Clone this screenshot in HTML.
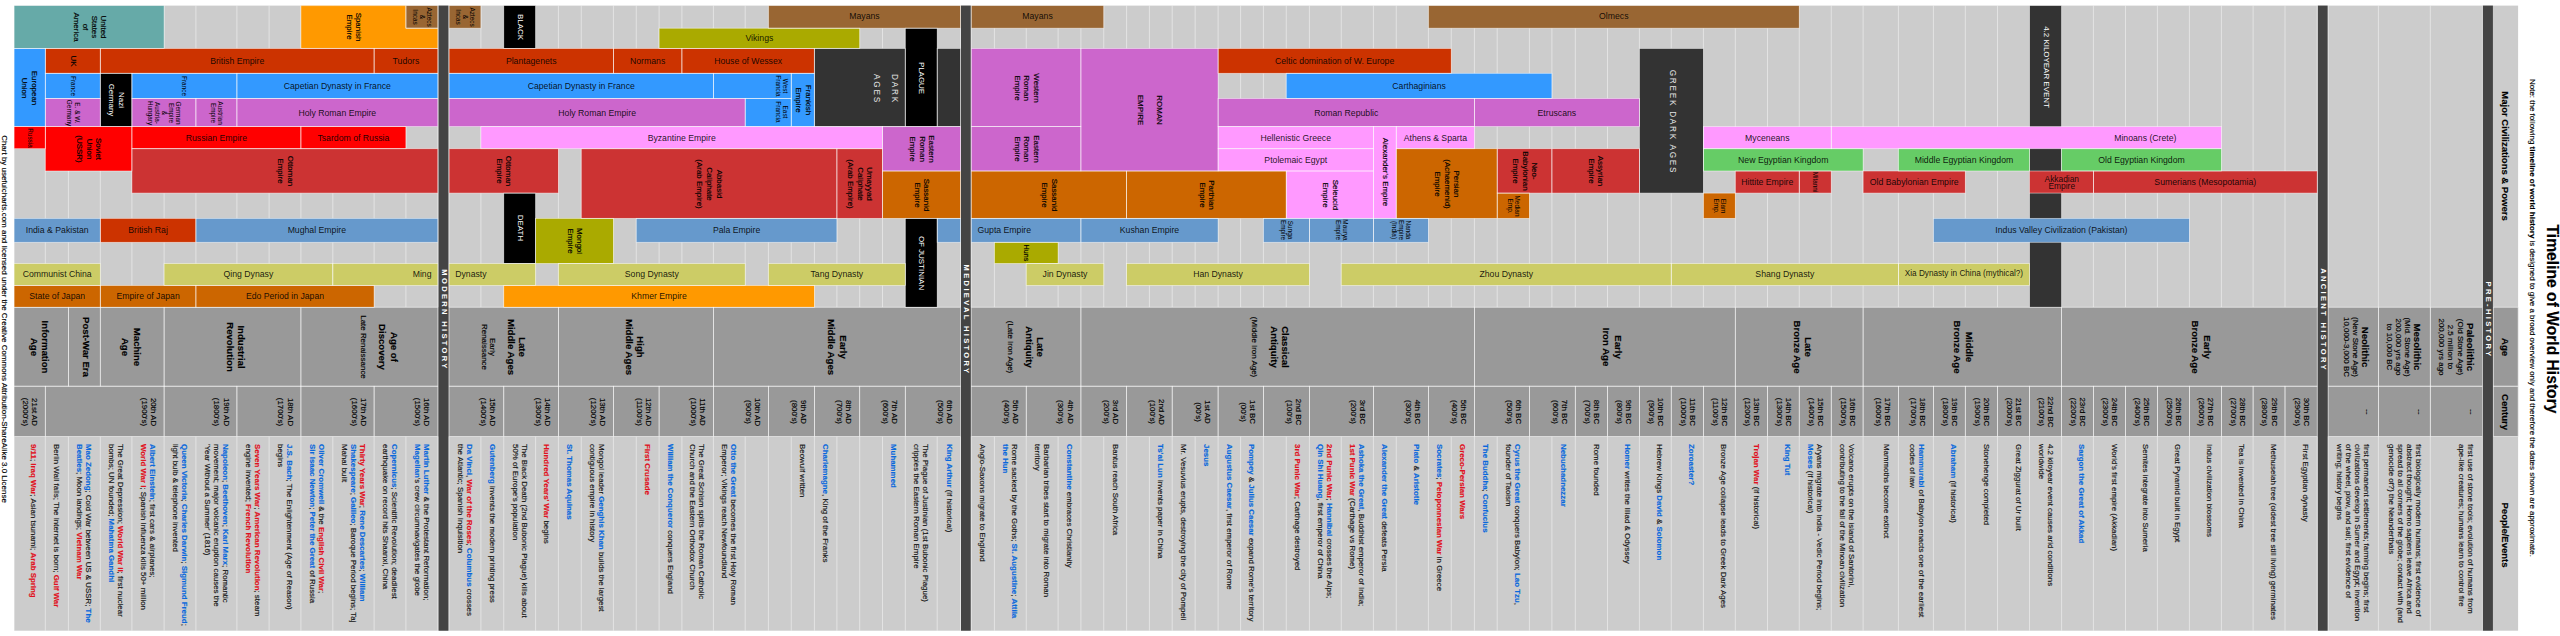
<!DOCTYPE html>
<html lang="en"><head><meta charset="utf-8">
<title>Timeline of World History</title>
<style>
html,body{margin:0;padding:0;background:#fff}
body{width:2560px;height:636px;position:relative;overflow:hidden;
font-family:"Liberation Sans",sans-serif;color:#000}
svg{position:absolute;left:0;top:0}
.h,.hl,.hr,.v,.vt,.e{position:absolute;white-space:nowrap;line-height:1}
.h{transform:translate(-50%,-50%)}
.hl{transform:translate(0,-50%)}
.hr{transform:translate(-100%,-50%)}
.v{transform:translate(-50%,-50%) rotate(90deg)}
.vt{transform-origin:0 50%;transform:translate(0,-50%) rotate(90deg)}
.v,.vt,.e{-webkit-text-stroke:0.15px currentColor}
.h,.hl,.hr{color:rgba(0,0,0,.88)}
.ns{-webkit-text-stroke:0}
.b,b{font-weight:bold}
.e{transform-origin:0 0;transform:rotate(90deg);font-size:7.9px;line-height:9.1px;color:#111}
.e b{color:#0968dc}
.e i{color:#e01020;font-style:normal;font-weight:bold}
.w{color:#fff}
</style></head><body>
<svg width="2560" height="636" viewBox="0 0 2560 636">
<g>
<rect x="14.1" y="5.6" width="2504" height="625.1" fill="#cccccc"/>
<rect x="14.1" y="307.3" width="2468.3" height="129.1" fill="#999999"/>
<rect x="2493.4" y="307.3" width="24.7" height="129.1" fill="#999999"/>
</g><g fill="none" stroke="#ffffff" stroke-width="0.75" stroke-opacity="0.62">
<path d="M14.1 5.6V307.3"/>
<path d="M14.1 436.4V630.7"/>
<path d="M45.3 5.6V307.3"/>
<path d="M45.3 436.4V630.7"/>
<path d="M68.4 5.6V307.3"/>
<path d="M68.4 436.4V630.7"/>
<path d="M100.3 5.6V307.3"/>
<path d="M100.3 436.4V630.7"/>
<path d="M131.9 5.6V307.3"/>
<path d="M131.9 436.4V630.7"/>
<path d="M164.1 5.6V307.3"/>
<path d="M164.1 436.4V630.7"/>
<path d="M195.9 5.6V307.3"/>
<path d="M195.9 436.4V630.7"/>
<path d="M236.9 5.6V307.3"/>
<path d="M236.9 436.4V630.7"/>
<path d="M269.1 5.6V307.3"/>
<path d="M269.1 436.4V630.7"/>
<path d="M300.9 5.6V307.3"/>
<path d="M300.9 436.4V630.7"/>
<path d="M332.8 5.6V307.3"/>
<path d="M332.8 436.4V630.7"/>
<path d="M374.1 5.6V307.3"/>
<path d="M374.1 436.4V630.7"/>
<path d="M405.9 5.6V307.3"/>
<path d="M405.9 436.4V630.7"/>
<path d="M437.8 5.6V307.3"/>
<path d="M437.8 436.4V630.7"/>
<path d="M14.1 307.3H437.8"/>
<path d="M14.1 386.2H437.8"/>
<path d="M14.1 436.4H437.8"/>
<path d="M449.1 5.6V307.3"/>
<path d="M449.1 436.4V630.7"/>
<path d="M480.9 5.6V307.3"/>
<path d="M480.9 436.4V630.7"/>
<path d="M503.75 5.6V307.3"/>
<path d="M503.75 436.4V630.7"/>
<path d="M535.6 5.6V307.3"/>
<path d="M535.6 436.4V630.7"/>
<path d="M558.4 5.6V307.3"/>
<path d="M558.4 436.4V630.7"/>
<path d="M581.25 5.6V307.3"/>
<path d="M581.25 436.4V630.7"/>
<path d="M613.4 5.6V307.3"/>
<path d="M613.4 436.4V630.7"/>
<path d="M636.25 5.6V307.3"/>
<path d="M636.25 436.4V630.7"/>
<path d="M659.1 5.6V307.3"/>
<path d="M659.1 436.4V630.7"/>
<path d="M681.9 5.6V307.3"/>
<path d="M681.9 436.4V630.7"/>
<path d="M713.4 5.6V307.3"/>
<path d="M713.4 436.4V630.7"/>
<path d="M745.2 5.6V307.3"/>
<path d="M745.2 436.4V630.7"/>
<path d="M768.4 5.6V307.3"/>
<path d="M768.4 436.4V630.7"/>
<path d="M791.25 5.6V307.3"/>
<path d="M791.25 436.4V630.7"/>
<path d="M814.4 5.6V307.3"/>
<path d="M814.4 436.4V630.7"/>
<path d="M836.9 5.6V307.3"/>
<path d="M836.9 436.4V630.7"/>
<path d="M859.7 5.6V307.3"/>
<path d="M859.7 436.4V630.7"/>
<path d="M882.5 5.6V307.3"/>
<path d="M882.5 436.4V630.7"/>
<path d="M905.3 5.6V307.3"/>
<path d="M905.3 436.4V630.7"/>
<path d="M937.2 5.6V307.3"/>
<path d="M937.2 436.4V630.7"/>
<path d="M960.5 5.6V307.3"/>
<path d="M960.5 436.4V630.7"/>
<path d="M449.1 307.3H960.5"/>
<path d="M449.1 386.2H960.5"/>
<path d="M449.1 436.4H960.5"/>
<path d="M971.3 5.6V307.3"/>
<path d="M971.3 436.4V630.7"/>
<path d="M994.4 5.6V307.3"/>
<path d="M994.4 436.4V630.7"/>
<path d="M1026.25 5.6V307.3"/>
<path d="M1026.25 436.4V630.7"/>
<path d="M1058.1 5.6V307.3"/>
<path d="M1058.1 436.4V630.7"/>
<path d="M1080.9 5.6V307.3"/>
<path d="M1080.9 436.4V630.7"/>
<path d="M1103.75 5.6V307.3"/>
<path d="M1103.75 436.4V630.7"/>
<path d="M1126.6 5.6V307.3"/>
<path d="M1126.6 436.4V630.7"/>
<path d="M1149.4 5.6V307.3"/>
<path d="M1149.4 436.4V630.7"/>
<path d="M1172.2 5.6V307.3"/>
<path d="M1172.2 436.4V630.7"/>
<path d="M1195.15 5.6V307.3"/>
<path d="M1195.15 436.4V630.7"/>
<path d="M1218.1 5.6V307.3"/>
<path d="M1218.1 436.4V630.7"/>
<path d="M1240.6 5.6V307.3"/>
<path d="M1240.6 436.4V630.7"/>
<path d="M1263.4 5.6V307.3"/>
<path d="M1263.4 436.4V630.7"/>
<path d="M1286.25 5.6V307.3"/>
<path d="M1286.25 436.4V630.7"/>
<path d="M1309.4 5.6V307.3"/>
<path d="M1309.4 436.4V630.7"/>
<path d="M1341.25 5.6V307.3"/>
<path d="M1341.25 436.4V630.7"/>
<path d="M1373.4 5.6V307.3"/>
<path d="M1373.4 436.4V630.7"/>
<path d="M1396.25 5.6V307.3"/>
<path d="M1396.25 436.4V630.7"/>
<path d="M1428.4 5.6V307.3"/>
<path d="M1428.4 436.4V630.7"/>
<path d="M1451.25 5.6V307.3"/>
<path d="M1451.25 436.4V630.7"/>
<path d="M1474.4 5.6V307.3"/>
<path d="M1474.4 436.4V630.7"/>
<path d="M1497.2 5.6V307.3"/>
<path d="M1497.2 436.4V630.7"/>
<path d="M1529.4 5.6V307.3"/>
<path d="M1529.4 436.4V630.7"/>
<path d="M1551.9 5.6V307.3"/>
<path d="M1551.9 436.4V630.7"/>
<path d="M1575.3 5.6V307.3"/>
<path d="M1575.3 436.4V630.7"/>
<path d="M1607.5 5.6V307.3"/>
<path d="M1607.5 436.4V630.7"/>
<path d="M1639.4 5.6V307.3"/>
<path d="M1639.4 436.4V630.7"/>
<path d="M1671.25 5.6V307.3"/>
<path d="M1671.25 436.4V630.7"/>
<path d="M1703.4 5.6V307.3"/>
<path d="M1703.4 436.4V630.7"/>
<path d="M1735.3 5.6V307.3"/>
<path d="M1735.3 436.4V630.7"/>
<path d="M1767.5 5.6V307.3"/>
<path d="M1767.5 436.4V630.7"/>
<path d="M1799.25 5.6V307.3"/>
<path d="M1799.25 436.4V630.7"/>
<path d="M1831.25 5.6V307.3"/>
<path d="M1831.25 436.4V630.7"/>
<path d="M1863.1 5.6V307.3"/>
<path d="M1863.1 436.4V630.7"/>
<path d="M1898.4 5.6V307.3"/>
<path d="M1898.4 436.4V630.7"/>
<path d="M1933.4 5.6V307.3"/>
<path d="M1933.4 436.4V630.7"/>
<path d="M1965.3 5.6V307.3"/>
<path d="M1965.3 436.4V630.7"/>
<path d="M1997.5 5.6V307.3"/>
<path d="M1997.5 436.4V630.7"/>
<path d="M2029.5 5.6V307.3"/>
<path d="M2029.5 436.4V630.7"/>
<path d="M2061.6 5.6V307.3"/>
<path d="M2061.6 436.4V630.7"/>
<path d="M2093.4 5.6V307.3"/>
<path d="M2093.4 436.4V630.7"/>
<path d="M2125.5 5.6V307.3"/>
<path d="M2125.5 436.4V630.7"/>
<path d="M2157.4 5.6V307.3"/>
<path d="M2157.4 436.4V630.7"/>
<path d="M2189.4 5.6V307.3"/>
<path d="M2189.4 436.4V630.7"/>
<path d="M2221.4 5.6V307.3"/>
<path d="M2221.4 436.4V630.7"/>
<path d="M2253.1 5.6V307.3"/>
<path d="M2253.1 436.4V630.7"/>
<path d="M2285 5.6V307.3"/>
<path d="M2285 436.4V630.7"/>
<path d="M2317.2 5.6V307.3"/>
<path d="M2317.2 436.4V630.7"/>
<path d="M971.3 307.3H2317.2"/>
<path d="M971.3 386.2H2317.2"/>
<path d="M971.3 436.4H2317.2"/>
<path d="M2328.25 5.6V307.3"/>
<path d="M2328.25 436.4V630.7"/>
<path d="M2378.4 5.6V307.3"/>
<path d="M2378.4 436.4V630.7"/>
<path d="M2430.3 5.6V307.3"/>
<path d="M2430.3 436.4V630.7"/>
<path d="M2482.4 5.6V307.3"/>
<path d="M2482.4 436.4V630.7"/>
<path d="M2328.25 307.3H2482.4"/>
<path d="M2328.25 386.2H2482.4"/>
<path d="M2328.25 436.4H2482.4"/>
<path d="M2493.4 307.3H2518.1"/>
<path d="M2493.4 386.2H2518.1"/>
<path d="M2493.4 436.4H2518.1"/>
</g><g>
<rect x="2029.5" y="5.6" width="32.1" height="301.7" fill="#333333" stroke="#fff" stroke-width="0.75" stroke-opacity="0.62"/>
</g><g>
<rect x="14.1" y="5.6" width="150" height="42.85" fill="#66aaa8"/>
<polygon points="300.9,5.6 405.9,5.6 405.9,28.2 437.8,28.2 437.8,48.45 300.9,48.45" fill="#ff9900"/>
<rect x="405.9" y="5.6" width="31.9" height="22.6" fill="#996633"/>
<rect x="449.1" y="5.6" width="31.8" height="22.6" fill="#996633"/>
<rect x="503.75" y="5.6" width="31.85" height="42.85" fill="#000000"/>
<rect x="768.4" y="5.6" width="192.1" height="22.6" fill="#996633"/>
<rect x="971.3" y="5.6" width="132.45" height="22.6" fill="#996633"/>
<rect x="1428.4" y="5.6" width="370.85" height="22.6" fill="#996633"/>
<rect x="659.1" y="28.2" width="200.6" height="20.25" fill="#aaaa00"/>
<rect x="905.3" y="28.2" width="31.9" height="98.4" fill="#000000"/>
<rect x="45.3" y="48.45" width="55" height="24.85" fill="#cc3300"/>
<rect x="100.3" y="48.45" width="273.8" height="24.85" fill="#cc3300"/>
<rect x="374.1" y="48.45" width="63.7" height="24.85" fill="#cc3300"/>
<rect x="449.1" y="48.45" width="164.3" height="24.85" fill="#cc3300"/>
<rect x="613.4" y="48.45" width="68.5" height="24.85" fill="#cc3300"/>
<rect x="681.9" y="48.45" width="132.5" height="24.85" fill="#cc3300"/>
<polygon points="814.4,48.45 905.3,48.45 905.3,126.6 814.4,126.6" fill="#333333"/>
<rect x="937.2" y="48.45" width="23.3" height="78.15" fill="#333333"/>
<rect x="971.3" y="48.45" width="109.6" height="78.15" fill="#cc66cc"/>
<rect x="1080.9" y="48.45" width="137.2" height="122.55" fill="#cc66cc"/>
<rect x="1218.1" y="48.45" width="233.15" height="24.85" fill="#cc3300"/>
<rect x="1639.4" y="48.45" width="64" height="144.65" fill="#333333"/>
<rect x="14.1" y="48.45" width="31.2" height="78.15" fill="#3399ff"/>
<rect x="45.3" y="73.3" width="55" height="25.15" fill="#3399ff"/>
<rect x="100.3" y="73.3" width="31.6" height="53.3" fill="#000000"/>
<rect x="131.9" y="73.3" width="105" height="25.15" fill="#3399ff"/>
<rect x="236.9" y="73.3" width="200.9" height="25.15" fill="#3399ff"/>
<rect x="449.1" y="73.3" width="264.3" height="25.15" fill="#3399ff"/>
<rect x="713.4" y="73.3" width="77.85" height="25.15" fill="#3399ff"/>
<rect x="791.25" y="73.3" width="23.15" height="53.3" fill="#3399ff"/>
<rect x="1286.25" y="73.3" width="265.65" height="25.15" fill="#3399ff"/>
<rect x="45.3" y="98.45" width="55" height="28.15" fill="#cc66cc"/>
<rect x="131.9" y="98.45" width="64" height="28.15" fill="#cc66cc"/>
<rect x="195.9" y="98.45" width="41" height="28.15" fill="#cc66cc"/>
<rect x="236.9" y="98.45" width="200.9" height="28.15" fill="#cc66cc"/>
<rect x="449.1" y="98.45" width="296.1" height="28.15" fill="#cc66cc"/>
<rect x="745.2" y="98.45" width="46.05" height="28.15" fill="#3399ff"/>
<rect x="1218.1" y="98.45" width="256.3" height="28.15" fill="#cc66cc"/>
<rect x="1474.4" y="98.45" width="165" height="28.15" fill="#cc66cc"/>
<rect x="14.1" y="126.6" width="31.2" height="22.1" fill="#ff0000"/>
<rect x="45.3" y="126.6" width="86.6" height="44.4" fill="#ff0000"/>
<rect x="131.9" y="126.6" width="169" height="22.1" fill="#ff0000"/>
<rect x="300.9" y="126.6" width="105" height="22.1" fill="#ff0000"/>
<rect x="480.9" y="126.6" width="401.6" height="22.1" fill="#ff99ff"/>
<rect x="882.5" y="126.6" width="78" height="44.4" fill="#cc66cc"/>
<rect x="971.3" y="126.6" width="109.6" height="44.4" fill="#cc66cc"/>
<rect x="1218.1" y="126.6" width="155.3" height="22.1" fill="#ff99ff"/>
<rect x="1373.4" y="126.6" width="22.85" height="91.75" fill="#ff99ff"/>
<rect x="1396.25" y="126.6" width="78.15" height="22.1" fill="#ff99ff"/>
<rect x="1703.4" y="126.6" width="127.85" height="22.1" fill="#ff99ff"/>
<rect x="1831.25" y="126.6" width="390.15" height="22.1" fill="#ff99ff"/>
<rect x="131.9" y="148.7" width="305.9" height="44.4" fill="#cc3333"/>
<rect x="449.1" y="148.7" width="109.3" height="44.4" fill="#cc3333"/>
<rect x="581.25" y="148.7" width="255.65" height="69.65" fill="#cc3333"/>
<rect x="836.9" y="148.7" width="45.6" height="69.65" fill="#cc3333"/>
<rect x="1218.1" y="148.7" width="155.3" height="22.3" fill="#ff99ff"/>
<rect x="1396.25" y="148.7" width="100.95" height="69.65" fill="#cc6600"/>
<rect x="1497.2" y="148.7" width="54.7" height="44.4" fill="#cc3333"/>
<rect x="1551.9" y="148.7" width="87.5" height="44.4" fill="#cc3333"/>
<rect x="1703.4" y="148.7" width="159.7" height="22.3" fill="#66cc66"/>
<rect x="1898.4" y="148.7" width="131.1" height="22.3" fill="#66cc66"/>
<rect x="2061.6" y="148.7" width="159.8" height="22.3" fill="#66cc66"/>
<rect x="882.5" y="171" width="78" height="47.35" fill="#cc6600"/>
<rect x="971.3" y="171" width="155.3" height="47.35" fill="#cc6600"/>
<rect x="1126.6" y="171" width="159.65" height="47.35" fill="#cc6600"/>
<rect x="1286.25" y="171" width="87.15" height="47.35" fill="#ff99ff"/>
<rect x="1735.3" y="171" width="63.95" height="22.1" fill="#cc3333"/>
<rect x="1799.25" y="171" width="32" height="22.1" fill="#cc3333"/>
<rect x="1863.1" y="171" width="102.2" height="22.1" fill="#cc3333"/>
<rect x="2029.5" y="171" width="63.9" height="22.1" fill="#cc3333"/>
<rect x="2093.4" y="171" width="223.8" height="22.1" fill="#cc3333"/>
<rect x="503.75" y="193.1" width="31.85" height="70.4" fill="#000000"/>
<rect x="1497.2" y="193.1" width="32.2" height="25.25" fill="#cc6600"/>
<rect x="1703.4" y="193.1" width="31.9" height="25.25" fill="#cc6600"/>
<rect x="14.1" y="218.35" width="86.2" height="23.95" fill="#6699cc"/>
<rect x="100.3" y="218.35" width="95.6" height="23.95" fill="#cc3300"/>
<rect x="195.9" y="218.35" width="241.9" height="23.95" fill="#6699cc"/>
<rect x="535.6" y="218.35" width="77.8" height="45.15" fill="#aaaa00"/>
<rect x="636.25" y="218.35" width="200.65" height="23.95" fill="#6699cc"/>
<rect x="905.3" y="218.35" width="31.9" height="88.95" fill="#000000"/>
<rect x="937.2" y="218.35" width="23.3" height="23.95" fill="#6699cc"/>
<rect x="971.3" y="218.35" width="109.6" height="23.95" fill="#6699cc"/>
<rect x="1080.9" y="218.35" width="137.2" height="23.95" fill="#6699cc"/>
<rect x="1263.4" y="218.35" width="46" height="23.95" fill="#6699cc"/>
<rect x="1309.4" y="218.35" width="64" height="23.95" fill="#6699cc"/>
<rect x="1373.4" y="218.35" width="55" height="23.95" fill="#6699cc"/>
<rect x="1933.4" y="218.35" width="256" height="23.95" fill="#6699cc"/>
<rect x="994.4" y="242.3" width="63.7" height="21.2" fill="#aaaa00"/>
<rect x="14.1" y="263.5" width="86.2" height="22" fill="#cccc66"/>
<rect x="164.1" y="263.5" width="168.7" height="22" fill="#cccc66"/>
<rect x="332.8" y="263.5" width="105" height="22" fill="#cccc66"/>
<rect x="449.1" y="263.5" width="86.5" height="22" fill="#cccc66"/>
<rect x="558.4" y="263.5" width="186.8" height="22" fill="#cccc66"/>
<rect x="768.4" y="263.5" width="136.9" height="22" fill="#cccc66"/>
<rect x="1026.25" y="263.5" width="77.5" height="22" fill="#cccc66"/>
<rect x="1126.6" y="263.5" width="182.8" height="22" fill="#cccc66"/>
<rect x="1341.25" y="263.5" width="330" height="22" fill="#cccc66"/>
<rect x="1671.25" y="263.5" width="227.15" height="22" fill="#cccc66"/>
<rect x="1898.4" y="263.5" width="131.1" height="22" fill="#cccc66"/>
<rect x="14.1" y="285.5" width="86.2" height="21.8" fill="#cc6600"/>
<rect x="100.3" y="285.5" width="95.6" height="21.8" fill="#cc6600"/>
<rect x="195.9" y="285.5" width="178.2" height="21.8" fill="#cc6600"/>
<rect x="503.75" y="285.5" width="310.65" height="21.8" fill="#ff9900"/>
<rect x="14.1" y="307.3" width="54.3" height="78.9" fill="#999999"/>
<rect x="68.4" y="307.3" width="31.9" height="78.9" fill="#999999"/>
<rect x="100.3" y="307.3" width="63.8" height="78.9" fill="#999999"/>
<rect x="164.1" y="307.3" width="136.8" height="78.9" fill="#999999"/>
<rect x="300.9" y="307.3" width="136.9" height="78.9" fill="#999999"/>
<rect x="449.1" y="307.3" width="109.3" height="78.9" fill="#999999"/>
<rect x="558.4" y="307.3" width="155" height="78.9" fill="#999999"/>
<rect x="713.4" y="307.3" width="247.1" height="78.9" fill="#999999"/>
<rect x="971.3" y="307.3" width="109.6" height="78.9" fill="#999999"/>
<rect x="1080.9" y="307.3" width="393.5" height="78.9" fill="#999999"/>
<rect x="1474.4" y="307.3" width="260.9" height="78.9" fill="#999999"/>
<rect x="1735.3" y="307.3" width="127.8" height="78.9" fill="#999999"/>
<rect x="1863.1" y="307.3" width="198.5" height="78.9" fill="#999999"/>
<rect x="2061.6" y="307.3" width="255.6" height="78.9" fill="#999999"/>
<rect x="2328.25" y="307.3" width="50.15" height="78.9" fill="#999999"/>
<rect x="2378.4" y="307.3" width="51.9" height="78.9" fill="#999999"/>
<rect x="2430.3" y="307.3" width="52.1" height="78.9" fill="#999999"/>
<rect x="14.1" y="386.2" width="31.2" height="50.2" fill="#999999"/>
<rect x="45.3" y="386.2" width="118.8" height="50.2" fill="#999999"/>
<rect x="164.1" y="386.2" width="72.8" height="50.2" fill="#999999"/>
<rect x="236.9" y="386.2" width="64" height="50.2" fill="#999999"/>
<rect x="300.9" y="386.2" width="73.2" height="50.2" fill="#999999"/>
<rect x="374.1" y="386.2" width="63.7" height="50.2" fill="#999999"/>
<rect x="449.1" y="386.2" width="54.65" height="50.2" fill="#999999"/>
<rect x="503.75" y="386.2" width="54.65" height="50.2" fill="#999999"/>
<rect x="558.4" y="386.2" width="55" height="50.2" fill="#999999"/>
<rect x="613.4" y="386.2" width="45.7" height="50.2" fill="#999999"/>
<rect x="659.1" y="386.2" width="54.3" height="50.2" fill="#999999"/>
<rect x="713.4" y="386.2" width="55" height="50.2" fill="#999999"/>
<rect x="768.4" y="386.2" width="46" height="50.2" fill="#999999"/>
<rect x="814.4" y="386.2" width="45.3" height="50.2" fill="#999999"/>
<rect x="859.7" y="386.2" width="45.6" height="50.2" fill="#999999"/>
<rect x="905.3" y="386.2" width="55.2" height="50.2" fill="#999999"/>
<rect x="971.3" y="386.2" width="54.95" height="50.2" fill="#999999"/>
<rect x="1026.25" y="386.2" width="54.65" height="50.2" fill="#999999"/>
<rect x="1080.9" y="386.2" width="45.7" height="50.2" fill="#999999"/>
<rect x="1126.6" y="386.2" width="45.6" height="50.2" fill="#999999"/>
<rect x="1172.2" y="386.2" width="45.9" height="50.2" fill="#999999"/>
<rect x="1218.1" y="386.2" width="45.3" height="50.2" fill="#999999"/>
<rect x="1263.4" y="386.2" width="46" height="50.2" fill="#999999"/>
<rect x="1309.4" y="386.2" width="64" height="50.2" fill="#999999"/>
<rect x="1373.4" y="386.2" width="55" height="50.2" fill="#999999"/>
<rect x="1428.4" y="386.2" width="46" height="50.2" fill="#999999"/>
<rect x="1474.4" y="386.2" width="55" height="50.2" fill="#999999"/>
<rect x="1529.4" y="386.2" width="45.9" height="50.2" fill="#999999"/>
<rect x="1575.3" y="386.2" width="32.2" height="50.2" fill="#999999"/>
<rect x="1607.5" y="386.2" width="31.9" height="50.2" fill="#999999"/>
<rect x="1639.4" y="386.2" width="31.85" height="50.2" fill="#999999"/>
<rect x="1671.25" y="386.2" width="32.15" height="50.2" fill="#999999"/>
<rect x="1703.4" y="386.2" width="31.9" height="50.2" fill="#999999"/>
<rect x="1735.3" y="386.2" width="32.2" height="50.2" fill="#999999"/>
<rect x="1767.5" y="386.2" width="31.75" height="50.2" fill="#999999"/>
<rect x="1799.25" y="386.2" width="32" height="50.2" fill="#999999"/>
<rect x="1831.25" y="386.2" width="31.85" height="50.2" fill="#999999"/>
<rect x="1863.1" y="386.2" width="35.3" height="50.2" fill="#999999"/>
<rect x="1898.4" y="386.2" width="35" height="50.2" fill="#999999"/>
<rect x="1933.4" y="386.2" width="31.9" height="50.2" fill="#999999"/>
<rect x="1965.3" y="386.2" width="32.2" height="50.2" fill="#999999"/>
<rect x="1997.5" y="386.2" width="32" height="50.2" fill="#999999"/>
<rect x="2029.5" y="386.2" width="32.1" height="50.2" fill="#999999"/>
<rect x="2061.6" y="386.2" width="31.8" height="50.2" fill="#999999"/>
<rect x="2093.4" y="386.2" width="32.1" height="50.2" fill="#999999"/>
<rect x="2125.5" y="386.2" width="31.9" height="50.2" fill="#999999"/>
<rect x="2157.4" y="386.2" width="32" height="50.2" fill="#999999"/>
<rect x="2189.4" y="386.2" width="32" height="50.2" fill="#999999"/>
<rect x="2221.4" y="386.2" width="31.7" height="50.2" fill="#999999"/>
<rect x="2253.1" y="386.2" width="31.9" height="50.2" fill="#999999"/>
<rect x="2285" y="386.2" width="32.2" height="50.2" fill="#999999"/>
<rect x="2328.25" y="386.2" width="50.15" height="50.2" fill="#999999"/>
<rect x="2378.4" y="386.2" width="51.9" height="50.2" fill="#999999"/>
<rect x="2430.3" y="386.2" width="52.1" height="50.2" fill="#999999"/>
<rect x="2493.4" y="307.3" width="24.7" height="78.9" fill="#999999"/>
<rect x="2493.4" y="386.2" width="24.7" height="50.2" fill="#999999"/>
</g><g fill="none" stroke="#ffffff" stroke-width="0.75" stroke-opacity="0.62">
<rect x="14.1" y="5.6" width="150" height="42.85"/>
<polygon points="300.9,5.6 405.9,5.6 405.9,28.2 437.8,28.2 437.8,48.45 300.9,48.45"/>
<rect x="405.9" y="5.6" width="31.9" height="22.6"/>
<rect x="449.1" y="5.6" width="31.8" height="22.6"/>
<rect x="503.75" y="5.6" width="31.85" height="42.85"/>
<rect x="768.4" y="5.6" width="192.1" height="22.6"/>
<rect x="971.3" y="5.6" width="132.45" height="22.6"/>
<rect x="1428.4" y="5.6" width="370.85" height="22.6"/>
<rect x="659.1" y="28.2" width="200.6" height="20.25"/>
<rect x="905.3" y="28.2" width="31.9" height="98.4"/>
<rect x="45.3" y="48.45" width="55" height="24.85"/>
<rect x="100.3" y="48.45" width="273.8" height="24.85"/>
<rect x="374.1" y="48.45" width="63.7" height="24.85"/>
<rect x="449.1" y="48.45" width="164.3" height="24.85"/>
<rect x="613.4" y="48.45" width="68.5" height="24.85"/>
<rect x="681.9" y="48.45" width="132.5" height="24.85"/>
<polygon points="814.4,48.45 905.3,48.45 905.3,126.6 814.4,126.6"/>
<rect x="937.2" y="48.45" width="23.3" height="78.15"/>
<rect x="971.3" y="48.45" width="109.6" height="78.15"/>
<rect x="1080.9" y="48.45" width="137.2" height="122.55"/>
<rect x="1218.1" y="48.45" width="233.15" height="24.85"/>
<rect x="1639.4" y="48.45" width="64" height="144.65"/>
<rect x="14.1" y="48.45" width="31.2" height="78.15"/>
<rect x="45.3" y="73.3" width="55" height="25.15"/>
<rect x="100.3" y="73.3" width="31.6" height="53.3"/>
<rect x="131.9" y="73.3" width="105" height="25.15"/>
<rect x="236.9" y="73.3" width="200.9" height="25.15"/>
<rect x="449.1" y="73.3" width="264.3" height="25.15"/>
<rect x="713.4" y="73.3" width="77.85" height="25.15"/>
<rect x="791.25" y="73.3" width="23.15" height="53.3"/>
<rect x="1286.25" y="73.3" width="265.65" height="25.15"/>
<rect x="45.3" y="98.45" width="55" height="28.15"/>
<rect x="131.9" y="98.45" width="64" height="28.15"/>
<rect x="195.9" y="98.45" width="41" height="28.15"/>
<rect x="236.9" y="98.45" width="200.9" height="28.15"/>
<rect x="449.1" y="98.45" width="296.1" height="28.15"/>
<rect x="745.2" y="98.45" width="46.05" height="28.15"/>
<rect x="1218.1" y="98.45" width="256.3" height="28.15"/>
<rect x="1474.4" y="98.45" width="165" height="28.15"/>
<rect x="14.1" y="126.6" width="31.2" height="22.1"/>
<rect x="45.3" y="126.6" width="86.6" height="44.4"/>
<rect x="131.9" y="126.6" width="169" height="22.1"/>
<rect x="300.9" y="126.6" width="105" height="22.1"/>
<rect x="480.9" y="126.6" width="401.6" height="22.1"/>
<rect x="882.5" y="126.6" width="78" height="44.4"/>
<rect x="971.3" y="126.6" width="109.6" height="44.4"/>
<rect x="1218.1" y="126.6" width="155.3" height="22.1"/>
<rect x="1373.4" y="126.6" width="22.85" height="91.75"/>
<rect x="1396.25" y="126.6" width="78.15" height="22.1"/>
<rect x="1703.4" y="126.6" width="127.85" height="22.1"/>
<rect x="1831.25" y="126.6" width="390.15" height="22.1"/>
<rect x="131.9" y="148.7" width="305.9" height="44.4"/>
<rect x="449.1" y="148.7" width="109.3" height="44.4"/>
<rect x="581.25" y="148.7" width="255.65" height="69.65"/>
<rect x="836.9" y="148.7" width="45.6" height="69.65"/>
<rect x="1218.1" y="148.7" width="155.3" height="22.3"/>
<rect x="1396.25" y="148.7" width="100.95" height="69.65"/>
<rect x="1497.2" y="148.7" width="54.7" height="44.4"/>
<rect x="1551.9" y="148.7" width="87.5" height="44.4"/>
<rect x="1703.4" y="148.7" width="159.7" height="22.3"/>
<rect x="1898.4" y="148.7" width="131.1" height="22.3"/>
<rect x="2061.6" y="148.7" width="159.8" height="22.3"/>
<rect x="882.5" y="171" width="78" height="47.35"/>
<rect x="971.3" y="171" width="155.3" height="47.35"/>
<rect x="1126.6" y="171" width="159.65" height="47.35"/>
<rect x="1286.25" y="171" width="87.15" height="47.35"/>
<rect x="1735.3" y="171" width="63.95" height="22.1"/>
<rect x="1799.25" y="171" width="32" height="22.1"/>
<rect x="1863.1" y="171" width="102.2" height="22.1"/>
<rect x="2029.5" y="171" width="63.9" height="22.1"/>
<rect x="2093.4" y="171" width="223.8" height="22.1"/>
<rect x="503.75" y="193.1" width="31.85" height="70.4"/>
<rect x="1497.2" y="193.1" width="32.2" height="25.25"/>
<rect x="1703.4" y="193.1" width="31.9" height="25.25"/>
<rect x="14.1" y="218.35" width="86.2" height="23.95"/>
<rect x="100.3" y="218.35" width="95.6" height="23.95"/>
<rect x="195.9" y="218.35" width="241.9" height="23.95"/>
<rect x="535.6" y="218.35" width="77.8" height="45.15"/>
<rect x="636.25" y="218.35" width="200.65" height="23.95"/>
<rect x="905.3" y="218.35" width="31.9" height="88.95"/>
<rect x="937.2" y="218.35" width="23.3" height="23.95"/>
<rect x="971.3" y="218.35" width="109.6" height="23.95"/>
<rect x="1080.9" y="218.35" width="137.2" height="23.95"/>
<rect x="1263.4" y="218.35" width="46" height="23.95"/>
<rect x="1309.4" y="218.35" width="64" height="23.95"/>
<rect x="1373.4" y="218.35" width="55" height="23.95"/>
<rect x="1933.4" y="218.35" width="256" height="23.95"/>
<rect x="994.4" y="242.3" width="63.7" height="21.2"/>
<rect x="14.1" y="263.5" width="86.2" height="22"/>
<rect x="164.1" y="263.5" width="168.7" height="22"/>
<rect x="332.8" y="263.5" width="105" height="22"/>
<rect x="449.1" y="263.5" width="86.5" height="22"/>
<rect x="558.4" y="263.5" width="186.8" height="22"/>
<rect x="768.4" y="263.5" width="136.9" height="22"/>
<rect x="1026.25" y="263.5" width="77.5" height="22"/>
<rect x="1126.6" y="263.5" width="182.8" height="22"/>
<rect x="1341.25" y="263.5" width="330" height="22"/>
<rect x="1671.25" y="263.5" width="227.15" height="22"/>
<rect x="1898.4" y="263.5" width="131.1" height="22"/>
<rect x="14.1" y="285.5" width="86.2" height="21.8"/>
<rect x="100.3" y="285.5" width="95.6" height="21.8"/>
<rect x="195.9" y="285.5" width="178.2" height="21.8"/>
<rect x="503.75" y="285.5" width="310.65" height="21.8"/>
<rect x="14.1" y="307.3" width="54.3" height="78.9"/>
<rect x="68.4" y="307.3" width="31.9" height="78.9"/>
<rect x="100.3" y="307.3" width="63.8" height="78.9"/>
<rect x="164.1" y="307.3" width="136.8" height="78.9"/>
<rect x="300.9" y="307.3" width="136.9" height="78.9"/>
<rect x="449.1" y="307.3" width="109.3" height="78.9"/>
<rect x="558.4" y="307.3" width="155" height="78.9"/>
<rect x="713.4" y="307.3" width="247.1" height="78.9"/>
<rect x="971.3" y="307.3" width="109.6" height="78.9"/>
<rect x="1080.9" y="307.3" width="393.5" height="78.9"/>
<rect x="1474.4" y="307.3" width="260.9" height="78.9"/>
<rect x="1735.3" y="307.3" width="127.8" height="78.9"/>
<rect x="1863.1" y="307.3" width="198.5" height="78.9"/>
<rect x="2061.6" y="307.3" width="255.6" height="78.9"/>
<rect x="2328.25" y="307.3" width="50.15" height="78.9"/>
<rect x="2378.4" y="307.3" width="51.9" height="78.9"/>
<rect x="2430.3" y="307.3" width="52.1" height="78.9"/>
<rect x="14.1" y="386.2" width="31.2" height="50.2"/>
<rect x="45.3" y="386.2" width="118.8" height="50.2"/>
<rect x="164.1" y="386.2" width="72.8" height="50.2"/>
<rect x="236.9" y="386.2" width="64" height="50.2"/>
<rect x="300.9" y="386.2" width="73.2" height="50.2"/>
<rect x="374.1" y="386.2" width="63.7" height="50.2"/>
<rect x="449.1" y="386.2" width="54.65" height="50.2"/>
<rect x="503.75" y="386.2" width="54.65" height="50.2"/>
<rect x="558.4" y="386.2" width="55" height="50.2"/>
<rect x="613.4" y="386.2" width="45.7" height="50.2"/>
<rect x="659.1" y="386.2" width="54.3" height="50.2"/>
<rect x="713.4" y="386.2" width="55" height="50.2"/>
<rect x="768.4" y="386.2" width="46" height="50.2"/>
<rect x="814.4" y="386.2" width="45.3" height="50.2"/>
<rect x="859.7" y="386.2" width="45.6" height="50.2"/>
<rect x="905.3" y="386.2" width="55.2" height="50.2"/>
<rect x="971.3" y="386.2" width="54.95" height="50.2"/>
<rect x="1026.25" y="386.2" width="54.65" height="50.2"/>
<rect x="1080.9" y="386.2" width="45.7" height="50.2"/>
<rect x="1126.6" y="386.2" width="45.6" height="50.2"/>
<rect x="1172.2" y="386.2" width="45.9" height="50.2"/>
<rect x="1218.1" y="386.2" width="45.3" height="50.2"/>
<rect x="1263.4" y="386.2" width="46" height="50.2"/>
<rect x="1309.4" y="386.2" width="64" height="50.2"/>
<rect x="1373.4" y="386.2" width="55" height="50.2"/>
<rect x="1428.4" y="386.2" width="46" height="50.2"/>
<rect x="1474.4" y="386.2" width="55" height="50.2"/>
<rect x="1529.4" y="386.2" width="45.9" height="50.2"/>
<rect x="1575.3" y="386.2" width="32.2" height="50.2"/>
<rect x="1607.5" y="386.2" width="31.9" height="50.2"/>
<rect x="1639.4" y="386.2" width="31.85" height="50.2"/>
<rect x="1671.25" y="386.2" width="32.15" height="50.2"/>
<rect x="1703.4" y="386.2" width="31.9" height="50.2"/>
<rect x="1735.3" y="386.2" width="32.2" height="50.2"/>
<rect x="1767.5" y="386.2" width="31.75" height="50.2"/>
<rect x="1799.25" y="386.2" width="32" height="50.2"/>
<rect x="1831.25" y="386.2" width="31.85" height="50.2"/>
<rect x="1863.1" y="386.2" width="35.3" height="50.2"/>
<rect x="1898.4" y="386.2" width="35" height="50.2"/>
<rect x="1933.4" y="386.2" width="31.9" height="50.2"/>
<rect x="1965.3" y="386.2" width="32.2" height="50.2"/>
<rect x="1997.5" y="386.2" width="32" height="50.2"/>
<rect x="2029.5" y="386.2" width="32.1" height="50.2"/>
<rect x="2061.6" y="386.2" width="31.8" height="50.2"/>
<rect x="2093.4" y="386.2" width="32.1" height="50.2"/>
<rect x="2125.5" y="386.2" width="31.9" height="50.2"/>
<rect x="2157.4" y="386.2" width="32" height="50.2"/>
<rect x="2189.4" y="386.2" width="32" height="50.2"/>
<rect x="2221.4" y="386.2" width="31.7" height="50.2"/>
<rect x="2253.1" y="386.2" width="31.9" height="50.2"/>
<rect x="2285" y="386.2" width="32.2" height="50.2"/>
<rect x="2328.25" y="386.2" width="50.15" height="50.2"/>
<rect x="2378.4" y="386.2" width="51.9" height="50.2"/>
<rect x="2430.3" y="386.2" width="52.1" height="50.2"/>
<rect x="2493.4" y="307.3" width="24.7" height="78.9"/>
<rect x="2493.4" y="386.2" width="24.7" height="50.2"/>
</g><g>
<rect x="438.6" y="5.6" width="9.8" height="625.1" fill="#444444"/>
<rect x="961" y="5.6" width="9.7" height="625.1" fill="#444444"/>
<rect x="2317.9" y="5.6" width="9.7" height="625.1" fill="#444444"/>
<rect x="2482.9" y="5.6" width="10" height="625.1" fill="#444444"/>
</g></svg>
<div class="v ns" style="left:2045.7px;top:66.5px;font-size:7.95px;color:#fff;">4.2 KILOYEAR EVENT</div>
<div class="v" style="left:103.31px;top:27.03px;font-size:7.95px;">United</div>
<div class="v" style="left:94.17px;top:27.03px;font-size:7.95px;">States</div>
<div class="v" style="left:85.03px;top:27.03px;font-size:7.95px;">of</div>
<div class="v" style="left:75.89px;top:27.03px;font-size:7.95px;">America</div>
<div class="v" style="left:358.1px;top:27px;font-size:7.95px;">Spanish</div>
<div class="v" style="left:348.7px;top:27px;font-size:7.95px;">Empire</div>
<div class="v ns" style="left:428.85px;top:16.9px;font-size:6.4px;">Aztecs</div>
<div class="v ns" style="left:421.85px;top:16.9px;font-size:6.4px;">&amp;</div>
<div class="v ns" style="left:414.85px;top:16.9px;font-size:6.4px;">Incas</div>
<div class="v ns" style="left:472px;top:16.9px;font-size:6.4px;">Aztecs</div>
<div class="v ns" style="left:465px;top:16.9px;font-size:6.4px;">&amp;</div>
<div class="v ns" style="left:458px;top:16.9px;font-size:6.4px;">Incas</div>
<div class="v ns" style="left:519.67px;top:27.03px;font-size:7.95px;color:#fff;">BLACK</div>
<div class="h" style="left:864.45px;top:16.4px;font-size:8.7px;">Mayans</div>
<div class="h" style="left:1037.53px;top:16.4px;font-size:8.7px;">Mayans</div>
<div class="h" style="left:1613.83px;top:16.4px;font-size:8.7px;">Olmecs</div>
<div class="h" style="left:759.4px;top:38.33px;font-size:8.7px;">Vikings</div>
<div class="v ns" style="left:921.25px;top:78.4px;font-size:7.95px;color:#fff;">PLAGUE</div>
<div class="v" style="left:72.8px;top:60.88px;font-size:7.95px;">UK</div>
<div class="h" style="left:237.2px;top:60.88px;font-size:8.7px;">British Empire</div>
<div class="h" style="left:405.95px;top:60.88px;font-size:8.7px;">Tudors</div>
<div class="h" style="left:531.25px;top:60.88px;font-size:8.7px;">Plantagenets</div>
<div class="h" style="left:647.65px;top:60.88px;font-size:8.7px;">Normans</div>
<div class="h" style="left:748.15px;top:60.88px;font-size:8.7px;">House of Wessex</div>
<div class="v ns" style="left:894.4px;top:88.8px;font-size:8.2px;color:#e4e4e4;letter-spacing:1.85px;">DARK</div>
<div class="v ns" style="left:876.1px;top:88.8px;font-size:8.2px;color:#e4e4e4;letter-spacing:1.85px;">AGES</div>
<div class="v" style="left:1035.7px;top:87.53px;font-size:7.95px;">Western</div>
<div class="v" style="left:1026.1px;top:87.53px;font-size:7.95px;">Roman</div>
<div class="v" style="left:1016.5px;top:87.53px;font-size:7.95px;">Empire</div>
<div class="v" style="left:1158.7px;top:109.72px;font-size:7.95px;">ROMAN</div>
<div class="v" style="left:1140.3px;top:109.72px;font-size:7.95px;">EMPIRE</div>
<div class="h" style="left:1334.67px;top:60.88px;font-size:8.7px;">Celtic domination of W. Europe</div>
<div class="v ns" style="left:1671.7px;top:122.1px;font-size:8.2px;color:#e4e4e4;letter-spacing:1.75px;">GREEK DARK AGES</div>
<div class="v" style="left:34px;top:87.53px;font-size:7.95px;">European</div>
<div class="v" style="left:24px;top:87.53px;font-size:7.95px;">Union</div>
<div class="v ns" style="left:72.8px;top:85.88px;font-size:6.4px;">France</div>
<div class="v ns" style="left:120.9px;top:99.95px;font-size:7.95px;color:#fff;">Nazi</div>
<div class="v ns" style="left:111.3px;top:99.95px;font-size:7.95px;color:#fff;">Germany</div>
<div class="v ns" style="left:184.4px;top:85.88px;font-size:6.4px;">France</div>
<div class="h" style="left:337.35px;top:85.88px;font-size:8.7px;">Capetian Dynasty in France</div>
<div class="h" style="left:581.25px;top:85.88px;font-size:8.7px;">Capetian Dynasty in France</div>
<div class="v ns" style="left:785.3px;top:85.8px;font-size:6.4px;">West</div>
<div class="v ns" style="left:777.9px;top:85.8px;font-size:6.4px;">Francia</div>
<div class="v" style="left:807.83px;top:99.95px;font-size:7.95px;">Frankish</div>
<div class="v" style="left:797.83px;top:99.95px;font-size:7.95px;">Empire</div>
<div class="h" style="left:1419.08px;top:85.88px;font-size:8.7px;">Carthaginians</div>
<div class="v ns" style="left:76.6px;top:112.53px;font-size:6.4px;">E. &amp; W.</div>
<div class="v ns" style="left:69px;top:112.53px;font-size:6.4px;">Germany</div>
<div class="v ns" style="left:177.9px;top:112.53px;font-size:6.4px;">German</div>
<div class="v ns" style="left:170.9px;top:112.53px;font-size:6.4px;">Empire</div>
<div class="v ns" style="left:163.9px;top:112.53px;font-size:6.4px;">&amp;</div>
<div class="v ns" style="left:156.9px;top:112.53px;font-size:6.4px;">Austria-</div>
<div class="v ns" style="left:149.9px;top:112.53px;font-size:6.4px;">Hungary</div>
<div class="v ns" style="left:220.1px;top:112.53px;font-size:6.4px;">Austrian</div>
<div class="v ns" style="left:212.7px;top:112.53px;font-size:6.4px;">Empire</div>
<div class="h" style="left:337.35px;top:112.53px;font-size:8.7px;">Holy Roman Empire</div>
<div class="h" style="left:597.15px;top:112.53px;font-size:8.7px;">Holy Roman Empire</div>
<div class="v ns" style="left:785.3px;top:112px;font-size:6.4px;">East</div>
<div class="v ns" style="left:777.9px;top:112px;font-size:6.4px;">Francia</div>
<div class="h" style="left:1346.25px;top:112.53px;font-size:8.7px;">Roman Republic</div>
<div class="h" style="left:1556.9px;top:112.53px;font-size:8.7px;">Etruscans</div>
<div class="v ns" style="left:29.7px;top:137.65px;font-size:6.4px;">Russia</div>
<div class="v" style="left:98px;top:148.8px;font-size:7.95px;">Soviet</div>
<div class="v" style="left:88.6px;top:148.8px;font-size:7.95px;">Union</div>
<div class="v" style="left:79.2px;top:148.8px;font-size:7.95px;">(USSR)</div>
<div class="h" style="left:216.4px;top:137.65px;font-size:8.7px;">Russian Empire</div>
<div class="h" style="left:353.4px;top:137.65px;font-size:8.7px;">Tsardom of Russia</div>
<div class="h" style="left:681.7px;top:137.65px;font-size:8.7px;">Byzantine Empire</div>
<div class="v" style="left:931.1px;top:148.8px;font-size:7.95px;">Eastern</div>
<div class="v" style="left:921.5px;top:148.8px;font-size:7.95px;">Roman</div>
<div class="v" style="left:911.9px;top:148.8px;font-size:7.95px;">Empire</div>
<div class="v" style="left:1035.7px;top:148.8px;font-size:7.95px;">Eastern</div>
<div class="v" style="left:1026.1px;top:148.8px;font-size:7.95px;">Roman</div>
<div class="v" style="left:1016.5px;top:148.8px;font-size:7.95px;">Empire</div>
<div class="h" style="left:1295.75px;top:137.65px;font-size:8.7px;">Hellenistic Greece</div>
<div class="v" style="left:1384.83px;top:172.47px;font-size:7.95px;">Alexander's Empire</div>
<div class="h" style="left:1435.33px;top:137.65px;font-size:8.7px;">Athens &amp; Sparta</div>
<div class="h" style="left:1767.33px;top:137.65px;font-size:8.7px;">Myceneans</div>
<div class="h" style="left:2145.32px;top:137.65px;font-size:8.7px;">Minoans (Crete)</div>
<div class="v" style="left:289.55px;top:170.9px;font-size:7.95px;">Ottoman</div>
<div class="v" style="left:280.15px;top:170.9px;font-size:7.95px;">Empire</div>
<div class="v" style="left:508.45px;top:170.9px;font-size:7.95px;">Ottoman</div>
<div class="v" style="left:499.05px;top:170.9px;font-size:7.95px;">Empire</div>
<div class="v" style="left:718.68px;top:183.52px;font-size:7.95px;">Abbasid</div>
<div class="v" style="left:709.08px;top:183.52px;font-size:7.95px;">Caliphate</div>
<div class="v" style="left:699.48px;top:183.52px;font-size:7.95px;">(Arab Empire)</div>
<div class="v" style="left:869.3px;top:183.52px;font-size:7.95px;">Umayyad</div>
<div class="v" style="left:859.7px;top:183.52px;font-size:7.95px;">Caliphate</div>
<div class="v" style="left:850.1px;top:183.52px;font-size:7.95px;">(Arab Empire)</div>
<div class="h" style="left:1295.75px;top:159.85px;font-size:8.7px;">Ptolemaic Egypt</div>
<div class="v" style="left:1456.32px;top:183.52px;font-size:7.95px;">Persian</div>
<div class="v" style="left:1446.72px;top:183.52px;font-size:7.95px;">(Achaemenid)</div>
<div class="v" style="left:1437.12px;top:183.52px;font-size:7.95px;">Empire</div>
<div class="v" style="left:1534.15px;top:170.9px;font-size:7.95px;">Neo-</div>
<div class="v" style="left:1524.55px;top:170.9px;font-size:7.95px;">Babylonian</div>
<div class="v" style="left:1514.95px;top:170.9px;font-size:7.95px;">Empire</div>
<div class="v" style="left:1600.45px;top:170.9px;font-size:7.95px;">Assyrian</div>
<div class="v" style="left:1590.85px;top:170.9px;font-size:7.95px;">Empire</div>
<div class="h" style="left:1783.25px;top:159.85px;font-size:8.7px;">New Egyptian Kingdom</div>
<div class="h" style="left:1963.95px;top:159.85px;font-size:8.7px;">Middle Egyptian Kingdom</div>
<div class="h" style="left:2141.5px;top:159.85px;font-size:8.7px;">Old Egyptian Kingdom</div>
<div class="v" style="left:926.3px;top:194.68px;font-size:7.95px;">Sassanid</div>
<div class="v" style="left:916.7px;top:194.68px;font-size:7.95px;">Empire</div>
<div class="v" style="left:1053.75px;top:194.68px;font-size:7.95px;">Sassanid</div>
<div class="v" style="left:1044.15px;top:194.68px;font-size:7.95px;">Empire</div>
<div class="v" style="left:1211.22px;top:194.68px;font-size:7.95px;">Parthian</div>
<div class="v" style="left:1201.62px;top:194.68px;font-size:7.95px;">Empire</div>
<div class="v" style="left:1334.62px;top:194.68px;font-size:7.95px;">Seleucid</div>
<div class="v" style="left:1325.03px;top:194.68px;font-size:7.95px;">Empire</div>
<div class="h" style="left:1767.28px;top:182.05px;font-size:8.7px;">Hittite Empire</div>
<div class="v ns" style="left:1815.25px;top:182.05px;font-size:6.4px;">Mitanni</div>
<div class="h" style="left:1914.2px;top:182.05px;font-size:8.7px;">Old Babylonian Empire</div>
<div class="h" style="left:2061.8px;top:178.9px;font-size:8.4px;">Akkadian</div>
<div class="h" style="left:2061.8px;top:185.5px;font-size:8.4px;">Empire</div>
<div class="h" style="left:2205.3px;top:182.05px;font-size:8.7px;">Sumerians (Mesopotamia)</div>
<div class="v ns" style="left:519.67px;top:228.3px;font-size:7.95px;color:#fff;">DEATH</div>
<div class="v ns" style="left:1517px;top:205.72px;font-size:6.4px;">Median</div>
<div class="v ns" style="left:1509.6px;top:205.72px;font-size:6.4px;">Emp.</div>
<div class="v ns" style="left:1723.05px;top:205.72px;font-size:6.4px;">Elam</div>
<div class="v ns" style="left:1715.65px;top:205.72px;font-size:6.4px;">Emp.</div>
<div class="h" style="left:57.2px;top:230.32px;font-size:8.7px;">India &amp; Pakistan</div>
<div class="h" style="left:148.1px;top:230.32px;font-size:8.7px;">British Raj</div>
<div class="h" style="left:316.85px;top:230.32px;font-size:8.7px;">Mughal Empire</div>
<div class="v" style="left:579.3px;top:240.93px;font-size:7.95px;">Mongol</div>
<div class="v" style="left:569.7px;top:240.93px;font-size:7.95px;">Empire</div>
<div class="h" style="left:736.58px;top:230.32px;font-size:8.7px;">Pala Empire</div>
<div class="v ns" style="left:921.25px;top:262.82px;font-size:7.95px;color:#fff;">OF JUSTINIAN</div>
<div class="hl" style="left:977.5px;top:230px;font-size:8.7px;">Gupta Empire</div>
<div class="h" style="left:1149.5px;top:230.32px;font-size:8.7px;">Kushan Empire</div>
<div class="v ns" style="left:1290.1px;top:230.32px;font-size:6.4px;">Sunga</div>
<div class="v ns" style="left:1282.7px;top:230.32px;font-size:6.4px;">Empire</div>
<div class="v ns" style="left:1345.1px;top:230.32px;font-size:6.4px;">Maurya</div>
<div class="v ns" style="left:1337.7px;top:230.32px;font-size:6.4px;">Empire</div>
<div class="v ns" style="left:1408.3px;top:230.32px;font-size:6.4px;">Nanda</div>
<div class="v ns" style="left:1400.9px;top:230.32px;font-size:6.4px;">Empire</div>
<div class="v ns" style="left:1393.5px;top:230.32px;font-size:6.4px;">(India)</div>
<div class="h" style="left:2061.4px;top:230.32px;font-size:8.7px;">Indus Valley Civilization (Pakistan)</div>
<div class="v" style="left:1026.25px;top:252.9px;font-size:7.2px;">Huns</div>
<div class="h" style="left:57.2px;top:273.7px;font-size:8.7px;">Communist China</div>
<div class="h" style="left:248.45px;top:273.7px;font-size:8.7px;">Qing Dynasy</div>
<div class="hr" style="left:431.5px;top:273.7px;font-size:8.7px;">Ming</div>
<div class="hl" style="left:455.2px;top:273.7px;font-size:8.7px;">Dynasty</div>
<div class="h" style="left:651.8px;top:273.7px;font-size:8.7px;">Song Dynasty</div>
<div class="h" style="left:836.85px;top:273.7px;font-size:8.7px;">Tang Dynasty</div>
<div class="h" style="left:1065px;top:273.7px;font-size:8.7px;">Jin Dynasty</div>
<div class="h" style="left:1218px;top:273.7px;font-size:8.7px;">Han Dynasty</div>
<div class="h" style="left:1506.25px;top:273.7px;font-size:8.7px;">Zhou Dynasty</div>
<div class="h" style="left:1784.83px;top:273.7px;font-size:8.7px;">Shang Dynasty</div>
<div class="h" style="left:1963.95px;top:273.7px;font-size:8.2px;">Xia Dynasty in China (mythical?)</div>
<div class="h" style="left:57.2px;top:296.4px;font-size:8.7px;">State of Japan</div>
<div class="h" style="left:148.1px;top:296.4px;font-size:8.7px;">Empire of Japan</div>
<div class="h" style="left:285px;top:296.4px;font-size:8.7px;">Edo Period in Japan</div>
<div class="h" style="left:659.08px;top:296.4px;font-size:8.7px;">Khmer Empire</div>
<div class="v b" style="left:45.3px;top:346.8px;font-size:9.6px;">Information</div>
<div class="v b" style="left:34px;top:346.8px;font-size:9.6px;">Age</div>
<div class="v b" style="left:86px;top:346.8px;font-size:9.6px;">Post-War Era</div>
<div class="v b" style="left:137px;top:346.8px;font-size:9.6px;">Machine</div>
<div class="v b" style="left:125.4px;top:346.8px;font-size:9.6px;">Age</div>
<div class="v b" style="left:241px;top:346.8px;font-size:9.6px;">Industrial</div>
<div class="v b" style="left:229.6px;top:346.8px;font-size:9.6px;">Revolution</div>
<div class="v b" style="left:393.6px;top:346.8px;font-size:9.6px;">Age of</div>
<div class="v b" style="left:382px;top:346.8px;font-size:9.6px;">Discovery</div>
<div class="v" style="left:363px;top:346.8px;font-size:7.95px;">Late Renaissance</div>
<div class="v b" style="left:522.2px;top:346.8px;font-size:9.6px;">Late</div>
<div class="v b" style="left:511.2px;top:346.8px;font-size:9.6px;">Middle Ages</div>
<div class="v" style="left:492.4px;top:346.8px;font-size:7.95px;">Early</div>
<div class="v" style="left:483.6px;top:346.8px;font-size:7.95px;">Renaissance</div>
<div class="v b" style="left:640px;top:346.8px;font-size:9.6px;">High</div>
<div class="v b" style="left:628.6px;top:346.8px;font-size:9.6px;">Middle Ages</div>
<div class="v b" style="left:842.6px;top:346.8px;font-size:9.6px;">Early</div>
<div class="v b" style="left:831.4px;top:346.8px;font-size:9.6px;">Middle Ages</div>
<div class="v b" style="left:1040px;top:346.8px;font-size:9.6px;">Late</div>
<div class="v b" style="left:1028.8px;top:346.8px;font-size:9.6px;">Antiquity</div>
<div class="v" style="left:1010px;top:346.8px;font-size:7.95px;">(Late Iron Age)</div>
<div class="v b" style="left:1285px;top:346.8px;font-size:9.6px;">Classical</div>
<div class="v b" style="left:1273.6px;top:346.8px;font-size:9.6px;">Antiquity</div>
<div class="v" style="left:1254.4px;top:346.8px;font-size:7.95px;">(Middle Iron Age)</div>
<div class="v b" style="left:1617.6px;top:346.8px;font-size:9.6px;">Early</div>
<div class="v b" style="left:1606.2px;top:346.8px;font-size:9.6px;">Iron Age</div>
<div class="v b" style="left:1808.4px;top:346.8px;font-size:9.6px;">Late</div>
<div class="v b" style="left:1797.2px;top:346.8px;font-size:9.6px;">Bronze Age</div>
<div class="v b" style="left:1969px;top:346.8px;font-size:9.6px;">Middle</div>
<div class="v b" style="left:1957.4px;top:346.8px;font-size:9.6px;">Bronze Age</div>
<div class="v b" style="left:2206.8px;top:346.8px;font-size:9.6px;">Early</div>
<div class="v b" style="left:2195.4px;top:346.8px;font-size:9.6px;">Bronze Age</div>
<div class="v b" style="left:2365px;top:346.8px;font-size:9.6px;">Neolithic</div>
<div class="v" style="left:2354.6px;top:346.8px;font-size:7.95px;">(New Stone Age)</div>
<div class="v" style="left:2346px;top:346.8px;font-size:7.95px;">10,000-3,000 BC</div>
<div class="v b" style="left:2417px;top:346.8px;font-size:9.6px;">Mesolithic</div>
<div class="v" style="left:2407.2px;top:346.8px;font-size:7.95px;">(Mid. Stone Age)</div>
<div class="v" style="left:2398.4px;top:346.8px;font-size:7.95px;">200,000 yrs ago</div>
<div class="v" style="left:2389.4px;top:346.8px;font-size:7.95px;">to 10,000 BC</div>
<div class="v b" style="left:2469.6px;top:346.8px;font-size:9.6px;">Paleolithic</div>
<div class="v" style="left:2459.6px;top:346.8px;font-size:7.95px;">(Old Stone Age)</div>
<div class="v" style="left:2450.4px;top:346.8px;font-size:7.95px;">2.5 million to</div>
<div class="v" style="left:2441.4px;top:346.8px;font-size:7.95px;">200,000 yrs ago</div>
<div class="v" style="left:33.9px;top:411.5px;font-size:7.95px;">21st AD</div>
<div class="v" style="left:24.7px;top:411.5px;font-size:7.95px;">(2000's)</div>
<div class="v" style="left:152.7px;top:411.5px;font-size:7.95px;">20th AD</div>
<div class="v" style="left:143.5px;top:411.5px;font-size:7.95px;">(1900's)</div>
<div class="v" style="left:225.5px;top:411.5px;font-size:7.95px;">19th AD</div>
<div class="v" style="left:216.3px;top:411.5px;font-size:7.95px;">(1800's)</div>
<div class="v" style="left:289.5px;top:411.5px;font-size:7.95px;">18th AD</div>
<div class="v" style="left:280.3px;top:411.5px;font-size:7.95px;">(1700's)</div>
<div class="v" style="left:362.7px;top:411.5px;font-size:7.95px;">17th AD</div>
<div class="v" style="left:353.5px;top:411.5px;font-size:7.95px;">(1600's)</div>
<div class="v" style="left:426.4px;top:411.5px;font-size:7.95px;">16th AD</div>
<div class="v" style="left:417.2px;top:411.5px;font-size:7.95px;">(1500's)</div>
<div class="v" style="left:492.35px;top:411.5px;font-size:7.95px;">15th AD</div>
<div class="v" style="left:483.15px;top:411.5px;font-size:7.95px;">(1400's)</div>
<div class="v" style="left:547px;top:411.5px;font-size:7.95px;">14th AD</div>
<div class="v" style="left:537.8px;top:411.5px;font-size:7.95px;">(1300's)</div>
<div class="v" style="left:602px;top:411.5px;font-size:7.95px;">13th AD</div>
<div class="v" style="left:592.8px;top:411.5px;font-size:7.95px;">(1200's)</div>
<div class="v" style="left:647.7px;top:411.5px;font-size:7.95px;">12th AD</div>
<div class="v" style="left:638.5px;top:411.5px;font-size:7.95px;">(1100's)</div>
<div class="v" style="left:702px;top:411.5px;font-size:7.95px;">11th AD</div>
<div class="v" style="left:692.8px;top:411.5px;font-size:7.95px;">(1000's)</div>
<div class="v" style="left:757px;top:411.5px;font-size:7.95px;">10th AD</div>
<div class="v" style="left:747.8px;top:411.5px;font-size:7.95px;">(900's)</div>
<div class="v" style="left:803px;top:411.5px;font-size:7.95px;">9th AD</div>
<div class="v" style="left:793.8px;top:411.5px;font-size:7.95px;">(800's)</div>
<div class="v" style="left:848.3px;top:411.5px;font-size:7.95px;">8th AD</div>
<div class="v" style="left:839.1px;top:411.5px;font-size:7.95px;">(700's)</div>
<div class="v" style="left:893.9px;top:411.5px;font-size:7.95px;">7th AD</div>
<div class="v" style="left:884.7px;top:411.5px;font-size:7.95px;">(600's)</div>
<div class="v" style="left:949.1px;top:411.5px;font-size:7.95px;">6th AD</div>
<div class="v" style="left:939.9px;top:411.5px;font-size:7.95px;">(500's)</div>
<div class="v" style="left:1014.85px;top:411.5px;font-size:7.95px;">5th AD</div>
<div class="v" style="left:1005.65px;top:411.5px;font-size:7.95px;">(400's)</div>
<div class="v" style="left:1069.5px;top:411.5px;font-size:7.95px;">4th AD</div>
<div class="v" style="left:1060.3px;top:411.5px;font-size:7.95px;">(300's)</div>
<div class="v" style="left:1115.2px;top:411.5px;font-size:7.95px;">3rd AD</div>
<div class="v" style="left:1106px;top:411.5px;font-size:7.95px;">(200's)</div>
<div class="v" style="left:1160.8px;top:411.5px;font-size:7.95px;">2nd AD</div>
<div class="v" style="left:1151.6px;top:411.5px;font-size:7.95px;">(100's)</div>
<div class="v" style="left:1206.7px;top:411.5px;font-size:7.95px;">1st AD</div>
<div class="v" style="left:1197.5px;top:411.5px;font-size:7.95px;">(00's)</div>
<div class="v" style="left:1252px;top:411.5px;font-size:7.95px;">1st BC</div>
<div class="v" style="left:1242.8px;top:411.5px;font-size:7.95px;">(00's)</div>
<div class="v" style="left:1298px;top:411.5px;font-size:7.95px;">2nd BC</div>
<div class="v" style="left:1288.8px;top:411.5px;font-size:7.95px;">(100's)</div>
<div class="v" style="left:1362px;top:411.5px;font-size:7.95px;">3rd BC</div>
<div class="v" style="left:1352.8px;top:411.5px;font-size:7.95px;">(200's)</div>
<div class="v" style="left:1417px;top:411.5px;font-size:7.95px;">4th BC</div>
<div class="v" style="left:1407.8px;top:411.5px;font-size:7.95px;">(300's)</div>
<div class="v" style="left:1463px;top:411.5px;font-size:7.95px;">5th BC</div>
<div class="v" style="left:1453.8px;top:411.5px;font-size:7.95px;">(400's)</div>
<div class="v" style="left:1518px;top:411.5px;font-size:7.95px;">6th BC</div>
<div class="v" style="left:1508.8px;top:411.5px;font-size:7.95px;">(500's)</div>
<div class="v" style="left:1563.9px;top:411.5px;font-size:7.95px;">7th BC</div>
<div class="v" style="left:1554.7px;top:411.5px;font-size:7.95px;">(600's)</div>
<div class="v" style="left:1596.1px;top:411.5px;font-size:7.95px;">8th BC</div>
<div class="v" style="left:1586.9px;top:411.5px;font-size:7.95px;">(700's)</div>
<div class="v" style="left:1628px;top:411.5px;font-size:7.95px;">9th BC</div>
<div class="v" style="left:1618.8px;top:411.5px;font-size:7.95px;">(800's)</div>
<div class="v" style="left:1659.85px;top:411.5px;font-size:7.95px;">10th BC</div>
<div class="v" style="left:1650.65px;top:411.5px;font-size:7.95px;">(900's)</div>
<div class="v" style="left:1692px;top:411.5px;font-size:7.95px;">11th BC</div>
<div class="v" style="left:1682.8px;top:411.5px;font-size:7.95px;">(1000's)</div>
<div class="v" style="left:1723.9px;top:411.5px;font-size:7.95px;">12th BC</div>
<div class="v" style="left:1714.7px;top:411.5px;font-size:7.95px;">(1100's)</div>
<div class="v" style="left:1756.1px;top:411.5px;font-size:7.95px;">13th BC</div>
<div class="v" style="left:1746.9px;top:411.5px;font-size:7.95px;">(1200's)</div>
<div class="v" style="left:1787.85px;top:411.5px;font-size:7.95px;">14th BC</div>
<div class="v" style="left:1778.65px;top:411.5px;font-size:7.95px;">(1300's)</div>
<div class="v" style="left:1819.85px;top:411.5px;font-size:7.95px;">15th BC</div>
<div class="v" style="left:1810.65px;top:411.5px;font-size:7.95px;">(1400's)</div>
<div class="v" style="left:1851.7px;top:411.5px;font-size:7.95px;">16th BC</div>
<div class="v" style="left:1842.5px;top:411.5px;font-size:7.95px;">(1500's)</div>
<div class="v" style="left:1887px;top:411.5px;font-size:7.95px;">17th BC</div>
<div class="v" style="left:1877.8px;top:411.5px;font-size:7.95px;">(1600's)</div>
<div class="v" style="left:1922px;top:411.5px;font-size:7.95px;">18th BC</div>
<div class="v" style="left:1912.8px;top:411.5px;font-size:7.95px;">(1700's)</div>
<div class="v" style="left:1953.9px;top:411.5px;font-size:7.95px;">19th BC</div>
<div class="v" style="left:1944.7px;top:411.5px;font-size:7.95px;">(1800's)</div>
<div class="v" style="left:1986.1px;top:411.5px;font-size:7.95px;">20th BC</div>
<div class="v" style="left:1976.9px;top:411.5px;font-size:7.95px;">(1900's)</div>
<div class="v" style="left:2018.1px;top:411.5px;font-size:7.95px;">21st BC</div>
<div class="v" style="left:2008.9px;top:411.5px;font-size:7.95px;">(2000's)</div>
<div class="v" style="left:2050.2px;top:411.5px;font-size:7.95px;">22nd BC</div>
<div class="v" style="left:2041px;top:411.5px;font-size:7.95px;">(2100's)</div>
<div class="v" style="left:2082px;top:411.5px;font-size:7.95px;">23rd BC</div>
<div class="v" style="left:2072.8px;top:411.5px;font-size:7.95px;">(2200's)</div>
<div class="v" style="left:2114.1px;top:411.5px;font-size:7.95px;">24th BC</div>
<div class="v" style="left:2104.9px;top:411.5px;font-size:7.95px;">(2300's)</div>
<div class="v" style="left:2146px;top:411.5px;font-size:7.95px;">25th BC</div>
<div class="v" style="left:2136.8px;top:411.5px;font-size:7.95px;">(2400's)</div>
<div class="v" style="left:2178px;top:411.5px;font-size:7.95px;">26th BC</div>
<div class="v" style="left:2168.8px;top:411.5px;font-size:7.95px;">(2500's)</div>
<div class="v" style="left:2210px;top:411.5px;font-size:7.95px;">27th BC</div>
<div class="v" style="left:2200.8px;top:411.5px;font-size:7.95px;">(2600's)</div>
<div class="v" style="left:2241.7px;top:411.5px;font-size:7.95px;">28th BC</div>
<div class="v" style="left:2232.5px;top:411.5px;font-size:7.95px;">(2700's)</div>
<div class="v" style="left:2273.6px;top:411.5px;font-size:7.95px;">29th BC</div>
<div class="v" style="left:2264.4px;top:411.5px;font-size:7.95px;">(2800's)</div>
<div class="v" style="left:2305.8px;top:411.5px;font-size:7.95px;">30th BC</div>
<div class="v" style="left:2296.6px;top:411.5px;font-size:7.95px;">(2900's)</div>
<div class="v" style="left:2367px;top:411.5px;font-size:7.95px;">--</div>
<div class="v" style="left:2418.9px;top:411.5px;font-size:7.95px;">--</div>
<div class="v" style="left:2471px;top:411.5px;font-size:7.95px;">--</div>
<div class="e" style="left:38.3px;top:443.6px"><i>9/11</i>; <i>Iraq War</i>; Asian tsunami; <i>Arab Spring</i></div>
<div class="e" style="left:61.4px;top:443.6px">Berlin Wall falls; The Internet is born; <i>Gulf War</i></div>
<div class="e" style="left:93.3px;top:443.6px"><b>Mao Zedong</b>; Cold War between US &amp; USSR; <b>The</b><br><b>Beatles</b>; Moon landings; <i>Vietnam War</i></div>
<div class="e" style="left:124.9px;top:443.6px">The Great Depression; <i>World War II</i>; first nuclear<br>bombs; UN founded; <b>Mahatma Gandhi</b></div>
<div class="e" style="left:157.1px;top:443.6px"><b>Albert Einstein</b>; first cars &amp; airplanes;<br><i>World War I</i>; Spanish Influenza kills 50+ million</div>
<div class="e" style="left:188.9px;top:443.6px"><b>Queen Victoria</b>; <b>Charles Darwin</b>; <b>Sigmund Freud</b>;<br>light bulb &amp; telephone invented</div>
<div class="e" style="left:229.9px;top:443.6px"><b>Napoleon</b>; <b>Beethoven</b>; <b>Karl Marx</b>; Romantic<br>movement; major volcanic eruption causes the<br>'Year Without a Summer' (1816)</div>
<div class="e" style="left:262.1px;top:443.6px"><i>Seven Years War</i>; <i>American Revolution</i>; steam<br>engine invented; <i>French Revolution</i></div>
<div class="e" style="left:293.9px;top:443.6px"><b>J.S. Bach</b>; The Enlightenment (Age of Reason)<br>begins</div>
<div class="e" style="left:325.8px;top:443.6px"><b>Oliver Cromwell</b> &amp; the <i>English Civil War</i>;<br><b>Sir Isaac Newton</b>; <b>Peter the Great</b> of Russia</div>
<div class="e" style="left:367.1px;top:443.6px"><i>Thirty Years War</i>; <b>Rene Descartes</b>; <b>William</b><br><b>Shakespeare</b>; <b>Galileo</b>; Baroque Period begins; Taj<br>Mahal built</div>
<div class="e" style="left:398.9px;top:443.6px"><b>Copernicus</b>; Scientific Revolution; deadliest<br>earthquake on record hits Shaanxi, China</div>
<div class="e" style="left:430.8px;top:443.6px"><b>Martin Luther</b> &amp; the Protestant Reformation;<br><b>Magellan</b>'s crew circumnavigates the globe</div>
<div class="e" style="left:473.9px;top:443.6px"><b>Da Vinci</b>, <i>War of the Roses</i>; <b>Columbus</b> crosses<br>the Atlantic; Spanish Inquisition</div>
<div class="e" style="left:496.75px;top:443.6px"><b>Gutenberg</b> invents the modern printing press</div>
<div class="e" style="left:528.6px;top:443.6px">The Black Death (2nd Bubonic Plague) kills about<br>50% of Europe's population</div>
<div class="e" style="left:551.4px;top:443.6px"><i>Hundred Years' War</i> begins</div>
<div class="e" style="left:574.25px;top:443.6px"><b>St. Thomas Aquinas</b></div>
<div class="e" style="left:606.4px;top:443.6px">Mongol leader <b>Genghis Khan</b> builds the largest<br>contiguous empire in history</div>
<div class="e" style="left:652.1px;top:443.6px"><i>First Crusade</i></div>
<div class="e" style="left:674.9px;top:443.6px"><b>William the Conqueror</b> conquers England</div>
<div class="e" style="left:706.4px;top:443.6px">The Great Schism splits the Roman Catholic<br>Church and the Eastern Orthodox Church</div>
<div class="e" style="left:738.2px;top:443.6px"><b>Otto the Great</b> becomes the first Holy Roman<br>Emperor; Vikings reach Newfoundland</div>
<div class="e" style="left:807.4px;top:443.6px">Beowulf written</div>
<div class="e" style="left:829.9px;top:443.6px"><b>Charlemagne</b>, King of the Franks</div>
<div class="e" style="left:898.3px;top:443.6px"><b>Muhammed</b></div>
<div class="e" style="left:930.2px;top:443.6px">The Plague of Justinian (1st Bubonic Plague)<br>cripples the Eastern Roman Empire</div>
<div class="e" style="left:953.5px;top:443.6px"><b>King Arthur</b> (if historical)</div>
<div class="e" style="left:987.4px;top:443.6px">Anglo-Saxons migrate to England</div>
<div class="e" style="left:1019.25px;top:443.6px">Rome sacked by the Goths; <b>St. Augustine</b>; <b>Attila</b><br><b>the Hun</b></div>
<div class="e" style="left:1051.1px;top:443.6px">Barbarian tribes start to migrate into Roman<br>territory</div>
<div class="e" style="left:1073.9px;top:443.6px"><b>Constantine</b> embraces Christianity</div>
<div class="e" style="left:1119.6px;top:443.6px">Bantus reach South Africa</div>
<div class="e" style="left:1165.2px;top:443.6px"><b>Ts'ai Lun</b> invents paper in China</div>
<div class="e" style="left:1188.15px;top:443.6px">Mr. Vesuvius erupts, destroying the city of Pompeii</div>
<div class="e" style="left:1211.1px;top:443.6px"><b>Jesus</b></div>
<div class="e" style="left:1233.6px;top:443.6px"><b>Augustus Caesar</b>, first emperor of Rome</div>
<div class="e" style="left:1256.4px;top:443.6px"><b>Pompey</b> &amp; <b>Julius Caesar</b> expand Rome's territory</div>
<div class="e" style="left:1302.4px;top:443.6px"><i>3rd Punic War</i>; Carthage destroyed</div>
<div class="e" style="left:1334.25px;top:443.6px"><i>2nd Punic War</i>; <b>Hannibal</b> crosses the Alps;<br><b>Qin Shi Huang</b>, first emperor of China</div>
<div class="e" style="left:1366.4px;top:443.6px"><b>Ashoka the Great</b>, Buddhist emperor of India;<br><i>1st Punic War</i> (Carthage vs Rome)</div>
<div class="e" style="left:1389.25px;top:443.6px"><b>Alexander the Great</b> defeats Persia</div>
<div class="e" style="left:1421.4px;top:443.6px"><b>Plato</b> &amp; <b>Aristotle</b></div>
<div class="e" style="left:1444.25px;top:443.6px"><b>Socrates</b>; <i>Peloponnesian War</i> in Greece</div>
<div class="e" style="left:1467.4px;top:443.6px"><i>Greco-Persian Wars</i></div>
<div class="e" style="left:1490.2px;top:443.6px"><b>The Buddha</b>; <b>Confucius</b></div>
<div class="e" style="left:1522.4px;top:443.6px"><b>Cyrus the Great</b> conquers Babylon; <b>Lao Tzu</b>,<br>founder of Taoism</div>
<div class="e" style="left:1568.3px;top:443.6px"><b>Nebuchadnezzar</b></div>
<div class="e" style="left:1600.5px;top:443.6px">Rome founded</div>
<div class="e" style="left:1632.4px;top:443.6px"><b>Homer</b> writes the Illiad &amp; Odyssey</div>
<div class="e" style="left:1664.25px;top:443.6px">Hebrew Kings <b>David</b> &amp; <b>Solomon</b></div>
<div class="e" style="left:1696.4px;top:443.6px"><b>Zoroaster?</b></div>
<div class="e" style="left:1728.3px;top:443.6px">Bronze Age collapse leads to Greek Dark Ages</div>
<div class="e" style="left:1760.5px;top:443.6px"><i>Trojan War</i> (if historical)</div>
<div class="e" style="left:1792.25px;top:443.6px"><b>King Tut</b></div>
<div class="e" style="left:1824.25px;top:443.6px">Aryans migrate into India - Vedic Period begins;<br><b>Moses</b> (if historical)</div>
<div class="e" style="left:1856.1px;top:443.6px">Volcano erupts on the island of Santorini,<br>contributing to the fall of the Minoan civilization</div>
<div class="e" style="left:1891.4px;top:443.6px">Mammoths become extinct</div>
<div class="e" style="left:1926.4px;top:443.6px"><b>Hammurabi</b> of Babylon enacts one of the earliest<br>codes of law</div>
<div class="e" style="left:1958.3px;top:443.6px"><b>Abraham</b> (if historical)</div>
<div class="e" style="left:1990.5px;top:443.6px">Stonehenge completed</div>
<div class="e" style="left:2022.5px;top:443.6px">Great Ziggurat of Ur built</div>
<div class="e" style="left:2054.6px;top:443.6px">4.2 kiloyear event causes arid conditions<br>worldwide</div>
<div class="e" style="left:2086.4px;top:443.6px"><b>Sargon the Great of Akkad</b></div>
<div class="e" style="left:2118.5px;top:443.6px">World's first empire (Akkadian)</div>
<div class="e" style="left:2150.4px;top:443.6px">Semites integrate into Sumeria</div>
<div class="e" style="left:2182.4px;top:443.6px">Great Pyramid built in Egypt</div>
<div class="e" style="left:2214.4px;top:443.6px">Indus civilization blossoms</div>
<div class="e" style="left:2246.1px;top:443.6px">Tea is invented in China</div>
<div class="e" style="left:2278px;top:443.6px">Methuselah tree (oldest tree still living) germinates</div>
<div class="e" style="left:2310.2px;top:443.6px">First Egyptian dynasty</div>
<div class="e" style="left:2371.4px;top:443.6px">first permanent settlements; farming begins; first<br>civilizations develop in Sumer and Egypt; invention<br>of the wheel, plow, and sail; first evidence of<br>writing; history begins</div>
<div class="e" style="left:2423.3px;top:443.6px">first biologically modern humans; first evidence of<br>abstract thought; Homo sapiens leave Africa and<br>spread to all corners of the globe; contact with (and<br>genocide of?) the Neanderthals</div>
<div class="e" style="left:2475.4px;top:443.6px">first use of stone tools; evolution of humans from<br>ape-like creatures; humans learn to control fire</div>
<div class="v b ns" style="left:444px;top:319.6px;font-size:7.6px;color:#fff;letter-spacing:2.3px;">MODERN HISTORY</div>
<div class="v b ns" style="left:966.35px;top:319.6px;font-size:7.6px;color:#fff;letter-spacing:2.3px;">MEDIEVAL HISTORY</div>
<div class="v b ns" style="left:2323.25px;top:319.6px;font-size:7.6px;color:#fff;letter-spacing:2.3px;">ANCIENT HISTORY</div>
<div class="v b ns" style="left:2488.4px;top:319.6px;font-size:7.6px;color:#fff;letter-spacing:2.3px;">PRE-HISTORY</div>
<div class="v b" style="left:2504.95px;top:156.45px;font-size:9.5px;">Major Civilizations &amp; Powers</div>
<div class="v b" style="left:2504.95px;top:347.35px;font-size:9.5px;">Age</div>
<div class="v b" style="left:2504.95px;top:411.8px;font-size:9.5px;">Century</div>
<div class="v b" style="left:2504.95px;top:534.55px;font-size:9.5px;">People/Events</div>
<div class="v b" style="left:2551.6px;top:318.5px;font-size:15.65px;">Timeline of World History</div>
<div class="v" style="left:2531.5px;top:318.4px;font-size:7.94px;">Note: the following <b>timeline of world history</b> is designed to give a broad overview only and therefore the dates shown are approximate.</div>
<div class="v" style="left:3.8px;top:319.1px;font-size:7.97px;">Chart by usefulcharts.com and licensed under the Creative Commons Attribution-ShareAlike 3.0 License</div>
</body></html>
